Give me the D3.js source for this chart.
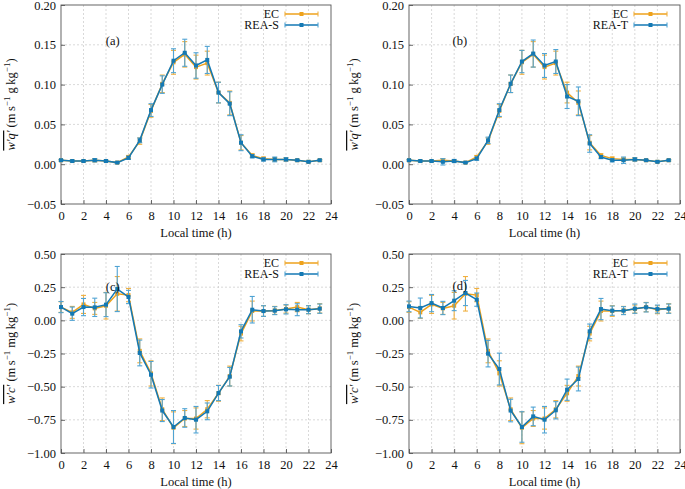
<!DOCTYPE html>
<html>
<head>
<meta charset="utf-8">
<script src="https://cdn.jsdelivr.net/npm/d3@7"></script>
<style>
  html, body { margin: 0; padding: 0; background: #fff; }
  svg { display: block; }
  svg text { font-family: 'Liberation Serif', 'Times New Roman', 'DejaVu Serif', serif !important; fill: #111; }
</style>
</head>
<body>
<svg id="chart" width="685" height="489" font-family="Liberation Serif"></svg>
<script>
// ---------------- data ----------------
const hours = d3.range(0, 24);
const xTicks = [0, 2, 4, 6, 8, 10, 12, 14, 16, 18, 20, 22, 24];

// water vapour flux w'q' (m s^-1 g kg^-1)
const ecQ      = [0.005,0.004,0.004,0.005,0.004,0.002,0.009,0.029,0.067,0.101,0.128,0.138,0.122,0.127,0.090,0.077,0.027,0.011,0.007,0.006,0.006,0.005,0.003,0.005];
const ecQErr   = [0.001,0.001,0.001,0.002,0.001,0.001,0.002,0.004,0.008,0.011,0.015,0.016,0.015,0.015,0.013,0.015,0.009,0.002,0.002,0.002,0.002,0.001,0.001,0.001];
const reaSQ    = [0.005,0.004,0.004,0.005,0.004,0.002,0.008,0.030,0.068,0.100,0.130,0.140,0.124,0.131,0.090,0.076,0.027,0.010,0.006,0.006,0.006,0.005,0.003,0.005];
const reaSQErr = [0.001,0.001,0.001,0.002,0.001,0.001,0.002,0.003,0.008,0.011,0.015,0.017,0.016,0.017,0.013,0.015,0.010,0.002,0.002,0.003,0.002,0.001,0.001,0.001];
const reaTQ    = [0.005,0.004,0.004,0.003,0.004,0.002,0.007,0.030,0.068,0.101,0.129,0.139,0.124,0.129,0.085,0.079,0.026,0.009,0.005,0.005,0.006,0.005,0.003,0.005];
const reaTQErr = [0.001,0.001,0.001,0.004,0.002,0.001,0.002,0.004,0.008,0.011,0.014,0.017,0.015,0.015,0.015,0.018,0.011,0.002,0.002,0.004,0.002,0.001,0.001,0.001];

// CO2 flux w'c' (m s^-1 mg kg^-1)
const ecC      = [0.10,0.06,0.12,0.09,0.11,0.20,0.19,-0.23,-0.40,-0.67,-0.81,-0.74,-0.74,-0.67,-0.55,-0.42,-0.10,0.07,0.07,0.075,0.085,0.10,0.08,0.09];
const ecCErr   = [0.04,0.045,0.068,0.045,0.10,0.13,0.05,0.09,0.095,0.085,0.12,0.06,0.08,0.065,0.06,0.075,0.055,0.075,0.04,0.03,0.03,0.035,0.03,0.035];
const reaSC    = [0.10,0.05,0.10,0.098,0.118,0.236,0.176,-0.246,-0.41,-0.68,-0.804,-0.736,-0.749,-0.686,-0.548,-0.425,-0.083,0.080,0.070,0.073,0.083,0.080,0.080,0.088];
const reaSCErr = [0.042,0.05,0.065,0.069,0.09,0.17,0.05,0.097,0.10,0.083,0.124,0.07,0.10,0.063,0.057,0.07,0.05,0.10,0.04,0.03,0.035,0.045,0.03,0.035];
const reaTC    = [0.105,0.093,0.13,0.093,0.148,0.206,0.156,-0.251,-0.367,-0.68,-0.804,-0.724,-0.749,-0.678,-0.523,-0.442,-0.083,0.085,0.073,0.073,0.088,0.098,0.085,0.088];
const reaTCErr = [0.04,0.075,0.065,0.05,0.075,0.095,0.05,0.10,0.12,0.085,0.115,0.07,0.10,0.065,0.08,0.09,0.055,0.08,0.035,0.03,0.035,0.035,0.03,0.035];

const qTicks = [-0.05, 0.00, 0.05, 0.10, 0.15, 0.20];
const cTicks = [-1.00, -0.75, -0.50, -0.25, 0.00, 0.25, 0.50];

// ---------------- styling ----------------
const EC_COLOR = "#eea21c";
const EC_ERR = "#f0b040";
const REA_COLOR = "#1479b4";
const REA_ERR = "#4fa3d3";
const FONT = "'Liberation Serif', 'Times New Roman', serif";

const svg = d3.select("#chart");
const fmt = d3.format(".2f");

const panels = [
  { box: [61, 331, 5, 204],    dom: [-0.05, 0.20], ticks: qTicks, rea: reaSQ, reaErr: reaSQErr, ec: ecQ, ecErr: ecQErr, name: "REA-S", tag: "(a)", tagPos: [4.6, 0.155], ylabX: 15, kind: "q" },
  { box: [409, 680, 5, 204],   dom: [-0.05, 0.20], ticks: qTicks, rea: reaTQ, reaErr: reaTQErr, ec: ecQ, ecErr: ecQErr, name: "REA-T", tag: "(b)", tagPos: [4.5, 0.155], ylabX: 358, kind: "q" },
  { box: [61, 331, 254, 453],  dom: [-1.0, 0.5],   ticks: cTicks, rea: reaSC, reaErr: reaSCErr, ec: ecC, ecErr: ecCErr, name: "REA-S", tag: "(c)", tagPos: [4.6, 0.255], ylabX: 15, kind: "c" },
  { box: [409, 680, 254, 453], dom: [-1.0, 0.5],   ticks: cTicks, rea: reaTC, reaErr: reaTCErr, ec: ecC, ecErr: ecCErr, name: "REA-T", tag: "(d)", tagPos: [4.5, 0.262], ylabX: 358, kind: "c" }
];

panels.forEach(p => {
  const [x0, x1, y0, y1] = p.box;
  const x = d3.scaleLinear().domain([0, 24]).range([x0, x1]);
  const y = d3.scaleLinear().domain(p.dom).range([y1, y0]);
  const g = svg.append("g").attr("font-family", FONT);

  // grid
  g.append("g").selectAll("line").data(xTicks.slice(1, -1)).join("line")
    .attr("x1", d => x(d)).attr("x2", d => x(d)).attr("y1", y0).attr("y2", y1)
    .attr("stroke", "#cfcfcf").attr("stroke-width", 0.8).attr("stroke-dasharray", "2,2");
  g.append("g").selectAll("line").data(p.ticks.slice(1, -1)).join("line")
    .attr("x1", x0).attr("x2", x1).attr("y1", d => y(d)).attr("y2", d => y(d))
    .attr("stroke", "#cfcfcf").attr("stroke-width", 0.8).attr("stroke-dasharray", "2,2");

  // axes via d3 axis (inward ticks)
  const xAxis = d3.axisBottom(x).tickValues(xTicks).tickSize(-4).tickPadding(7).tickFormat(d3.format("d"));
  const yAxis = d3.axisLeft(y).tickValues(p.ticks).tickSize(-4).tickPadding(5).tickFormat(fmt);
  const gx = g.append("g").attr("transform", `translate(0,${y1})`).call(xAxis);
  const gy = g.append("g").attr("transform", `translate(${x0},0)`).call(yAxis);
  [gx, gy].forEach(a => {
    a.attr("font-family", FONT);
    a.select(".domain").remove();
    a.selectAll(".tick line").attr("stroke", "#444").attr("stroke-width", 0.8);
    a.selectAll(".tick text").attr("font-size", 12.5).attr("fill", "#111");
  });

  // frame
  g.append("rect").attr("x", x0).attr("y", y0).attr("width", x1 - x0).attr("height", y1 - y0)
    .attr("fill", "none").attr("stroke", "#555").attr("stroke-width", 0.9);

  // x label
  g.append("text").attr("x", (x0 + x1) / 2).attr("y", y1 + 33).attr("text-anchor", "middle")
    .attr("font-size", 12.5).text("Local time (h)");

  // y label
  const yl = g.append("text")
    .attr("transform", `translate(${p.ylabX},${(y0 + y1) / 2}) rotate(-90)`)
    .attr("text-anchor", "middle").attr("font-size", 12.5);
  yl.append("tspan").attr("font-style", "italic").style("text-decoration", "overline")
    .text(p.kind === "q" ? "w\u2032q\u2032" : "w\u2032c\u2032");
  yl.append("tspan").text(" (m\u2009s");
  yl.append("tspan").attr("dy", -5).attr("font-size", 9).text("\u22121");
  yl.append("tspan").attr("dy", 5).text(p.kind === "q" ? " g\u2009kg" : " mg\u2009kg");
  yl.append("tspan").attr("dy", -5).attr("font-size", 9).text("\u22121");
  yl.append("tspan").attr("dy", 5).text(")");

  // series
  function series(vals, errs, col, errCol) {
    const sg = g.append("g");
    sg.selectAll("line.eb").data(hours).join("line")
      .attr("x1", h => x(h)).attr("x2", h => x(h))
      .attr("y1", h => y(vals[h] - errs[h])).attr("y2", h => y(vals[h] + errs[h]))
      .attr("stroke", errCol).attr("stroke-width", 1.1);
    [-1, 1].forEach(s => {
      sg.append("g").selectAll("line").data(hours).join("line")
        .attr("x1", h => x(h) - 2.5).attr("x2", h => x(h) + 2.5)
        .attr("y1", h => y(vals[h] + s * errs[h])).attr("y2", h => y(vals[h] + s * errs[h]))
        .attr("stroke", errCol).attr("stroke-width", 1.1);
    });
    sg.append("path").datum(hours)
      .attr("d", d3.line().x(h => x(h)).y(h => y(vals[h])))
      .attr("fill", "none").attr("stroke", col).attr("stroke-width", 1.5);
    sg.append("g").selectAll("rect").data(hours).join("rect")
      .attr("x", h => x(h) - 2).attr("y", h => y(vals[h]) - 2)
      .attr("width", 4).attr("height", 4).attr("fill", col);
  }
  series(p.ec, p.ecErr, EC_COLOR, EC_ERR);
  series(p.rea, p.reaErr, REA_COLOR, REA_ERR);

  // panel tag
  g.append("text").attr("x", x(p.tagPos[0])).attr("y", y(p.tagPos[1]) + 4)
    .attr("text-anchor", "middle").attr("font-size", 12.5).text(p.tag);

  // legend
  const leg = [{ n: "EC", c: EC_COLOR, e: EC_ERR }, { n: p.name, c: REA_COLOR, e: REA_ERR }];
  leg.forEach((L, i) => {
    const ly = y0 + 9 + i * 11;
    g.append("text").attr("x", x1 - 52).attr("y", ly + 4).attr("text-anchor", "end")
      .attr("font-size", 12).text(L.n);
    const lx0 = x1 - 46, lx1 = x1 - 13;
    g.append("line").attr("x1", lx0).attr("x2", lx1).attr("y1", ly).attr("y2", ly)
      .attr("stroke", L.c).attr("stroke-width", 1.5);
    [lx0, lx1].forEach(cx => g.append("line").attr("x1", cx).attr("x2", cx)
      .attr("y1", ly - 2.5).attr("y2", ly + 2.5).attr("stroke", L.e).attr("stroke-width", 1.1));
    g.append("rect").attr("x", (lx0 + lx1) / 2 - 2).attr("y", ly - 2).attr("width", 4).attr("height", 4).attr("fill", L.c);
  });
});
</script>
</body>
</html>
